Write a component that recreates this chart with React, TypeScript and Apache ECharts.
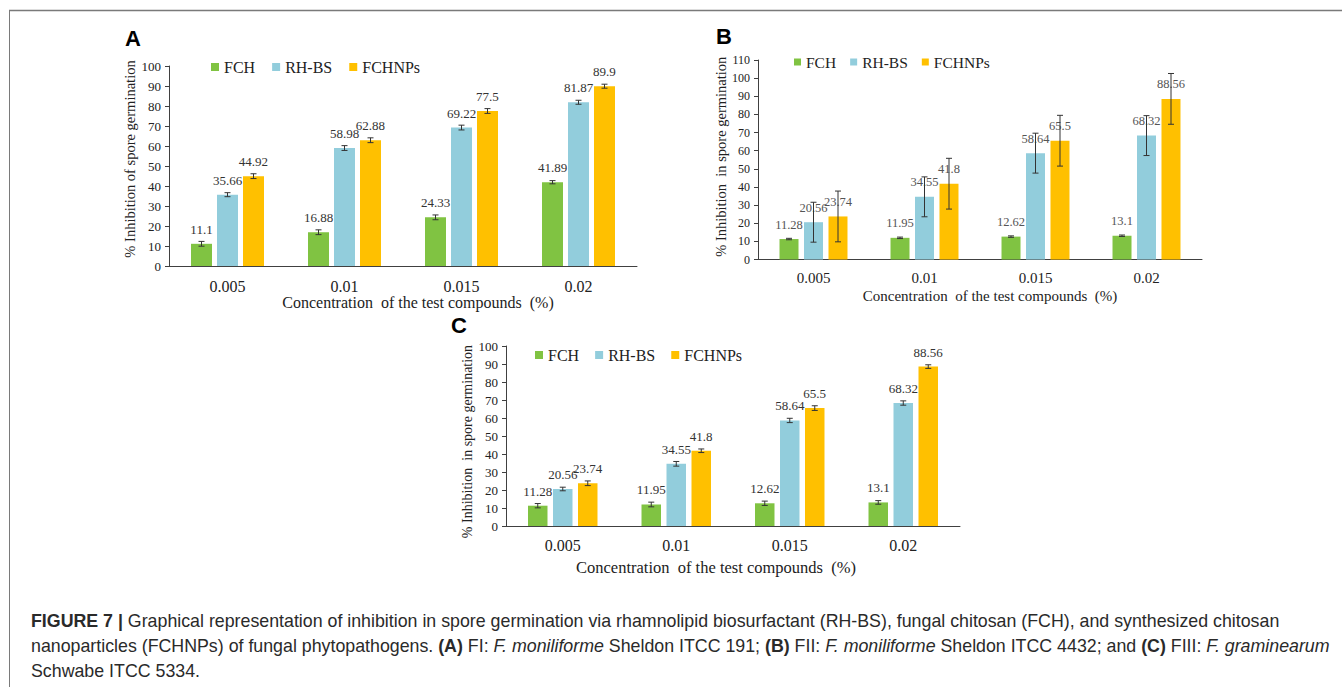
import React, { useEffect, useRef } from "react";
import * as echarts from "echarts";

// ---------- data ----------
const categories = ["0.005", "0.01", "0.015", "0.02"];
const seriesNames = ["FCH", "RH-BS", "FCHNPs"];

// Panel A
const fchA = [11.1, 16.88, 24.33, 41.89];
const rhbsA = [35.66, 58.98, 69.22, 81.87];
const fchnpsA = [44.92, 62.88, 77.5, 89.9];
const errFchA = [1.2, 1.2, 1.2, 0.8];
const errRhbsA = [1.0, 1.2, 1.2, 1.0];
const errFchnpsA = [1.2, 1.2, 1.2, 1.0];

// Panel B
const fchB = [11.28, 11.95, 12.62, 13.1];
const rhbsB = [20.56, 34.55, 58.64, 68.32];
const fchnpsB = [23.74, 41.8, 65.5, 88.56];
const errFchB = [0.4, 0.4, 0.4, 0.4];
const errRhbsB = [11, 11, 11, 11];
const errFchnpsB = [14, 14, 14, 14];

// Panel C
const fchC = [11.28, 11.95, 12.62, 13.1];
const rhbsC = [20.56, 34.55, 58.64, 68.32];
const fchnpsC = [23.74, 41.8, 65.5, 88.56];
const errFchC = [1.2, 1.3, 1.2, 1.0];
const errRhbsC = [1.0, 1.3, 1.2, 1.2];
const errFchnpsC = [1.3, 1.0, 1.3, 1.0];

const colors = ["#80c342", "#92cddc", "#ffc000"];
const SERIF = '"Liberation Serif", "Times New Roman", serif';
const SANS = '"Liberation Sans", Arial, sans-serif';

type Panel = {
  values: number[][];
  errs: number[][];
  barW: number;
  gap: number;
  labelColor: string;
  labelSize: number;
};

const panels: Panel[] = [
  { values: [fchA, rhbsA, fchnpsA], errs: [errFchA, errRhbsA, errFchnpsA], barW: 21, gap: 5, labelColor: "#333", labelSize: 13 },
  { values: [fchB, rhbsB, fchnpsB], errs: [errFchB, errRhbsB, errFchnpsB], barW: 19, gap: 5.5, labelColor: "#555", labelSize: 12.5 },
  { values: [fchC, rhbsC, fchnpsC], errs: [errFchC, errRhbsC, errFchnpsC], barW: 19.5, gap: 5.5, labelColor: "#333", labelSize: 13 },
];

function buildOption() {
  const series: any[] = [];
  panels.forEach((p, gi) => {
    p.values.forEach((vals, k) => {
      series.push({
        type: "bar",
        name: seriesNames[k],
        xAxisIndex: gi,
        yAxisIndex: gi,
        data: vals,
        barWidth: p.barW,
        barGap: ((p.gap / p.barW) * 100).toFixed(1) + "%",
        itemStyle: { color: colors[k] },
        label: {
          show: true,
          position: "top",
          distance: 8,
          fontSize: p.labelSize,
          color: p.labelColor,
          fontFamily: SERIF,
        },
      });
    });
    p.values.forEach((vals, k) => {
      const off = (k - 1) * (p.barW + p.gap);
      series.push({
        type: "custom",
        name: "err" + gi + "_" + k,
        xAxisIndex: gi,
        yAxisIndex: gi,
        z: 10,
        silent: true,
        encode: { x: 0, y: 1 },
        data: vals.map((v, i) => [i, v, p.errs[k][i]]),
        renderItem: (params: any, api: any) => {
          const i = api.value(0);
          const v = api.value(1);
          const e = api.value(2);
          const top = api.coord([i, v + e]);
          const bot = api.coord([i, v - e]);
          const x = top[0] + off;
          const cw = 3;
          const st = { stroke: "#333", lineWidth: 1 };
          return {
            type: "group",
            children: [
              { type: "line", shape: { x1: x, y1: top[1], x2: x, y2: bot[1] }, style: st },
              { type: "line", shape: { x1: x - cw, y1: top[1], x2: x + cw, y2: top[1] }, style: st },
              { type: "line", shape: { x1: x - cw, y1: bot[1], x2: x + cw, y2: bot[1] }, style: st },
            ],
          };
        },
      });
    });
  });

  const grids = [
    { left: 169, top: 66, width: 468, height: 200 },
    { left: 758, top: 60, width: 444, height: 199.5 },
    { left: 506, top: 346, width: 454, height: 180 },
  ];

  const axisLine = { show: true, lineStyle: { color: "#404040", width: 1 } };

  const xNames = [
    { size: 16, gap: 27, pad: [0, 0, 0, 30] },
    { size: 15, gap: 29, pad: [0, 0, 0, 20] },
    { size: 16.5, gap: 33, pad: [0, 34, 0, 0] },
  ];
  const xLabel = [
    { size: 16, margin: 12 },
    { size: 15, margin: 11 },
    { size: 16, margin: 11 },
  ];
  const yNames = [
    { text: "% Inhibition of spore germination", size: 14.5, gap: 29, pad: [0, 0, 0, 14] },
    { text: "% Inhibition  in spore germination", size: 14.5, gap: 30, pad: [0, 0, 0, 6] },
    { text: "% Inhibition  in spore germination", size: 14, gap: 31, pad: [0, 11, 0, 0] },
  ];
  const yMax = [100, 110, 100];
  const yLabSize = [13, 12, 13];

  const xAxis = grids.map((_, gi) => ({
    type: "category",
    gridIndex: gi,
    data: categories,
    axisLine,
    axisTick: { show: false },
    axisLabel: { fontSize: xLabel[gi].size, color: "#222", fontFamily: SERIF, margin: xLabel[gi].margin },
    name: "Concentration  of the test compounds  (%)",
    nameLocation: "middle",
    nameGap: xNames[gi].gap,
    nameTextStyle: { fontSize: xNames[gi].size, color: "#222", fontFamily: SERIF, padding: xNames[gi].pad },
  }));

  const yAxis = grids.map((_, gi) => ({
    type: "value",
    gridIndex: gi,
    min: 0,
    max: yMax[gi],
    interval: 10,
    axisLine,
    axisTick: { show: true, length: 4, lineStyle: { color: "#404040" } },
    splitLine: { show: false },
    axisLabel: { fontSize: yLabSize[gi], color: "#222", fontFamily: SERIF, margin: 8 },
    name: yNames[gi].text,
    nameLocation: "middle",
    nameRotate: 90,
    nameGap: yNames[gi].gap,
    nameTextStyle: { fontSize: yNames[gi].size, color: "#222", fontFamily: SERIF, padding: yNames[gi].pad },
  }));

  const legendBase = {
    data: seriesNames,
    orient: "horizontal",
    icon: "rect",
    itemWidth: 8,
    itemHeight: 8,
    padding: 0,
    selectedMode: false,
  };
  const legend = [
    { ...legendBase, left: 211, top: 59, itemGap: 17, textStyle: { fontSize: 16, color: "#222", fontFamily: SERIF } },
    { ...legendBase, left: 794, top: 54, itemGap: 14, itemWidth: 7, itemHeight: 7, textStyle: { fontSize: 15.5, color: "#222", fontFamily: SERIF } },
    { ...legendBase, left: 535, top: 347, itemGap: 16, textStyle: { fontSize: 16, color: "#222", fontFamily: SERIF } },
  ];

  const CAP = 17.8;
  const capStyle = { fontSize: CAP, fontFamily: SANS, fill: "#2a2a2a" };
  const rich = {
    b: { fontWeight: "bold", fontSize: CAP, fontFamily: SANS, color: "#2a2a2a" },
    i: { fontStyle: "italic", fontSize: CAP, fontFamily: SANS, color: "#2a2a2a" },
    r: { fontSize: CAP, fontFamily: SANS, color: "#2a2a2a" },
  };

  const graphic = [
    { type: "line", shape: { x1: 9, y1: 10.5, x2: 1342, y2: 10.5 }, style: { stroke: "#7a7a7a", lineWidth: 1.5 } },
    { type: "line", shape: { x1: 9.5, y1: 10, x2: 9.5, y2: 687 }, style: { stroke: "#7a7a7a", lineWidth: 1 } },
    { type: "text", left: 125, top: 27, style: { text: "A", fontSize: 22, fontWeight: "bold", fontFamily: SANS, fill: "#000" } },
    { type: "text", left: 716, top: 25, style: { text: "B", fontSize: 22, fontWeight: "bold", fontFamily: SANS, fill: "#000" } },
    { type: "text", left: 451, top: 314, style: { text: "C", fontSize: 22, fontWeight: "bold", fontFamily: SANS, fill: "#000" } },
    {
      type: "text",
      left: 31,
      top: 612,
      style: {
        ...capStyle,
        text:
          "{b|FIGURE 7 |}{r| Graphical representation of inhibition in spore germination via rhamnolipid biosurfactant (RH-BS), fungal chitosan (FCH), and synthesized chitosan}",
        rich,
      },
    },
    {
      type: "text",
      left: 31,
      top: 637,
      style: {
        ...capStyle,
        text:
          "{r|nanoparticles (FCHNPs) of fungal phytopathogens. }{b|(A)}{r| FI: }{i|F. moniliforme}{r| Sheldon ITCC 191; }{b|(B)}{r| FII: }{i|F. moniliforme}{r| Sheldon ITCC 4432; and }{b|(C)}{r| FIII: }{i|F. graminearum}",
        rich,
      },
    },
    {
      type: "text",
      left: 31,
      top: 662,
      style: { ...capStyle, text: "{r|Schwabe ITCC 5334.}", rich },
    },
  ];

  return {
    animation: false,
    backgroundColor: "#ffffff",
    grid: grids,
    xAxis,
    yAxis,
    legend,
    series,
    graphic,
  };
}

export default function App() {
  const ref = useRef<HTMLDivElement>(null);
  useEffect(() => {
    if (!ref.current) return;
    const chart = echarts.init(ref.current, undefined, { renderer: "svg" });
    chart.setOption(buildOption() as any);
    return () => chart.dispose();
  }, []);
  return (
    <div
      ref={ref}
      style={{ position: "absolute", left: 0, top: 0, width: 1342, height: 687, background: "#fff" }}
    />
  );
}
